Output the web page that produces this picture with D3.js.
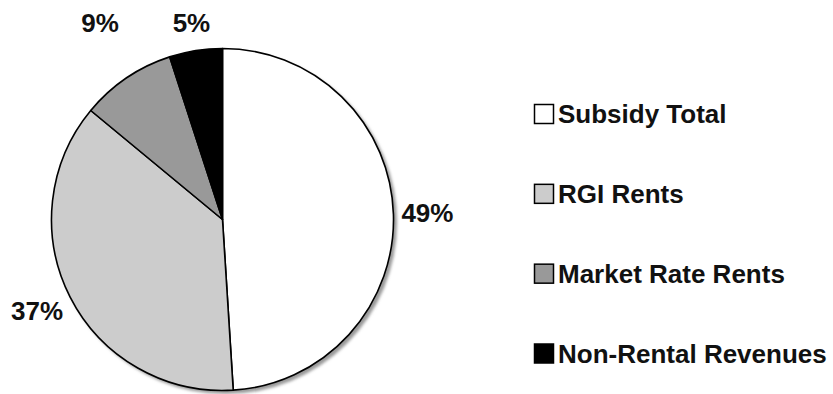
<!DOCTYPE html>
<html>
<head>
<meta charset="utf-8">
<script src="https://cdn.jsdelivr.net/npm/d3@7"></script>
<style>
  html, body { margin: 0; padding: 0; background: #fff; }
  svg { display: block; }
  text { font-family: "Liberation Sans", Arial, sans-serif; font-weight: bold; fill: #111; }
</style>
</head>
<body>
<svg id="chart" width="833" height="394"></svg>
<script>
// Revenue sources, share of total (%)
const categories = ["Subsidy Total", "RGI Rents", "Market Rate Rents", "Non-Rental Revenues"];
const shares = [49, 37, 9, 5];
const labels = ["49%", "37%", "9%", "5%"];
const fills = ["#ffffff", "#cccccc", "#999999", "#000000"];

const W = 833, H = 394;
const cx = 222.5, cy = 219.5, R = 171;
const fontSize = 26;

const svg = d3.select("#chart");

// soft drop shadow behind the pie
const defs = svg.append("defs");
defs.append("filter").attr("id", "shadow")
  .attr("x", "-10%").attr("y", "-10%").attr("width", "120%").attr("height", "120%")
  .append("feGaussianBlur").attr("stdDeviation", 1.6);

const g = svg.append("g").attr("transform", `translate(${cx},${cy})`);

g.append("circle")
  .attr("cx", 3).attr("cy", 3).attr("r", R + 0.5)
  .attr("fill", "#9a9a9a")
  .attr("filter", "url(#shadow)");

const pie = d3.pie().value(d => d).sort(null);
const arcs = pie(shares);
const arc = d3.arc().innerRadius(0).outerRadius(R);

g.selectAll("path.slice")
  .data(arcs)
  .join("path")
  .attr("class", "slice")
  .attr("d", arc)
  .attr("fill", (d, i) => fills[i])
  .attr("stroke", "#000")
  .attr("stroke-width", 1.6)
  .attr("stroke-linejoin", "round");

// Percentage labels sit just outside the rim on each slice's mid-angle,
// with the text box pushed outward; labels near the top share a row above the pie.
const gap = 8;
const topRow = -R - 26;
const capH = fontSize * 0.716;
const clamp = v => Math.max(-1, Math.min(1, v));

const lbl = g.selectAll("text.pct")
  .data(arcs)
  .join("text")
  .attr("class", "pct")
  .attr("font-size", fontSize)
  .attr("text-anchor", "middle")
  .text((d, i) => labels[i]);

lbl.each(function (d) {
  const w = this.getComputedTextLength();
  const h = capH + 2;
  const a = (d.startAngle + d.endAngle) / 2;
  const sx = Math.sin(a), sy = -Math.cos(a);
  const bx = (R + gap) * sx + (w / 2) * clamp(sx * 2.5);
  const by = (R + gap) * sy + (h / 2) * clamp(sy * 2.5);
  let x = bx, y = by;
  if (sy < -0.8) {
    const t = -topRow / -sy;
    x = ((R + gap + w / 2) * sx + sx * t) / 2;
    y = topRow;
  }
  d3.select(this).attr("x", x).attr("y", y + capH / 2);
});

// Legend
const legendY = d3.scalePoint().domain(categories).range([114, 353.5]);
const box = 20;
const leg = svg.append("g");
const rows = leg.selectAll("g").data(categories).join("g")
  .attr("transform", d => `translate(0,${legendY(d)})`);
rows.append("rect")
  .attr("x", 534.5).attr("y", -box / 2 + 0.5)
  .attr("width", box - 1).attr("height", box - 1)
  .attr("fill", (d, i) => fills[i])
  .attr("stroke", "#000").attr("stroke-width", 1.5);
rows.append("text")
  .attr("x", 558).attr("y", capH / 2)
  .attr("font-size", fontSize)
  .text(d => d);
</script>
</body>
</html>
